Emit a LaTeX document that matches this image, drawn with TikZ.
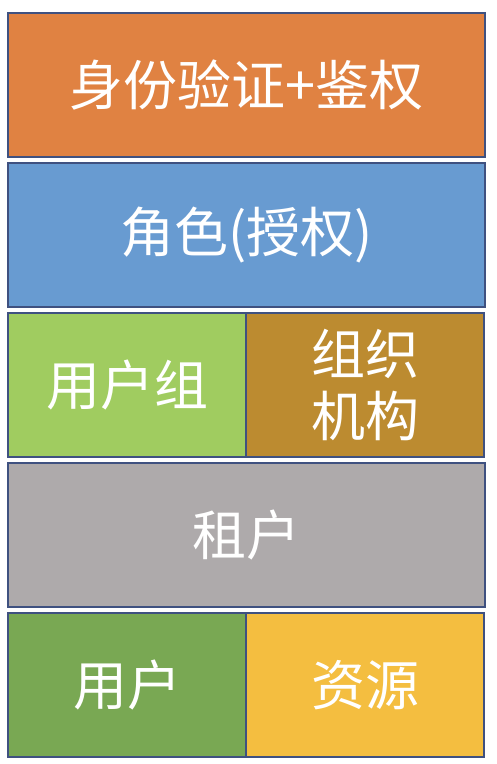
\documentclass[tikz,border=0pt]{standalone}
\usepackage{fontspec}
\usepackage{xcolor}
\usepackage{tikz}
\usetikzlibrary{positioning}
\newfontfamily\cjk{Noto Sans CJK SC}
\definecolor{frame}{RGB}{63,81,128}
\definecolor{authorange}{RGB}{224,130,66}
\definecolor{roleblue}{RGB}{104,155,209}
\definecolor{grouplime}{RGB}{160,204,96}
\definecolor{orggold}{RGB}{188,139,48}
\definecolor{tenantgray}{RGB}{174,170,171}
\definecolor{usergreen}{RGB}{121,168,83}
\definecolor{resyellow}{RGB}{244,190,64}
\tikzset{
  basic/.style  = {draw=frame, line width=2.4pt, rectangle, anchor=north west,
                   inner sep=0pt, align=center, text=white,
                   font=\cjk\fontsize{54}{62}\selectfont},
  wide/.style   = {basic, minimum width=477pt, minimum height=144pt},
  half/.style   = {basic, minimum width=238pt, minimum height=144pt}
}
\begin{document}
\begin{tikzpicture}[x=1pt,y=-1pt]
  \useasboundingbox[fill=white] (0,0) rectangle (496,764);
  \node[wide, fill=authorange] (auth) at (7,12)     {身份验证+鉴权};
  \node[wide, fill=roleblue] (role) at (7,161.5)    {角色(授权)};
  \node[half, fill=grouplime] (group) at (7,311.5)  {用户组};
  \node[half, fill=orggold] (org) at (245,311.5)    {组织\\机构};
  \node[wide, fill=tenantgray] (tenant) at (7,461.5) {租户};
  \node[half, fill=usergreen] (user) at (7,611.5)   {用户};
  \node[half, fill=resyellow] (res) at (245,611.5)  {资源};
\end{tikzpicture}
\end{document}
